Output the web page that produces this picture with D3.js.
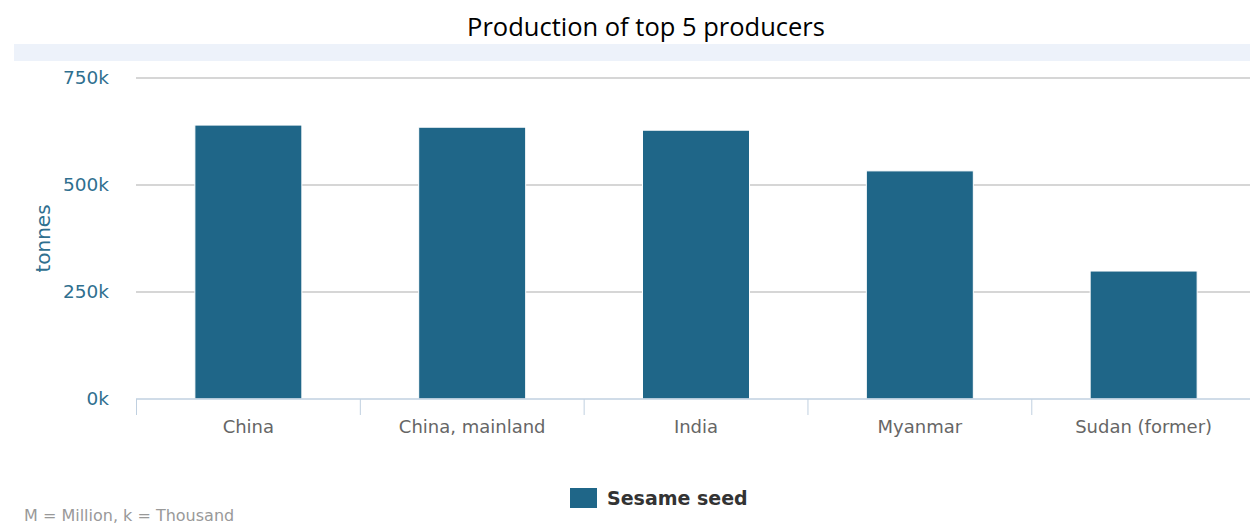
<!DOCTYPE html>
<html>
<head>
<meta charset="utf-8">
<script src="https://cdnjs.cloudflare.com/ajax/libs/d3/7.8.5/d3.min.js"></script>
<style>
  body { margin: 0; background: #fff; overflow: hidden; }
  svg { display: block; }
</style>
</head>
<body>
<svg id="chart"></svg>
<script>
const categories = ["China", "China, mainland", "India", "Myanmar", "Sudan (former)"];
const seriesName = "Sesame seed";
const values = [640000, 635000, 628000, 533000, 299000];
const yTicks = [0, 250000, 500000, 750000];

const W = 1250, H = 525;
const margin = { top: 78, right: -6, bottom: 126, left: 136 };
const width = W - margin.left - margin.right;
const height = H - margin.top - margin.bottom;
const barColor = "#1f6688";

const svg = d3.select("#chart").attr("width", W).attr("height", H);

// title + light band
svg.append("text")
    .attr("x", 646).attr("y", 36)
    .attr("text-anchor", "middle")
    .attr("font-family", "'Open Sans', sans-serif")
    .attr("font-size", 25.5)
    .attr("fill", "#000")
    .text("Production of top 5 producers");

svg.append("rect")
    .attr("x", 14).attr("y", 44)
    .attr("width", W - 14).attr("height", 17)
    .attr("fill", "#edf2fa");

const x = d3.scaleBand().domain(categories).range([0, width]).paddingInner(0.522).paddingOuter(0.263);
const y = d3.scaleLinear().domain([0, 750000]).range([height, 0]);

const g = svg.append("g").attr("transform", `translate(${margin.left},${margin.top})`);

// gridlines
g.append("g")
    .selectAll("line")
    .data(yTicks.filter(d => d > 0))
    .join("line")
    .attr("x1", 0).attr("x2", width)
    .attr("y1", d => y(d)).attr("y2", d => y(d))
    .attr("stroke", "#c8c8c8")
    .attr("stroke-width", 1.6);

// y labels
const yAxis = g.append("g")
    .call(d3.axisLeft(y).tickValues(yTicks).tickSize(0).tickPadding(27)
        .tickFormat(d => (d / 1000) + "k"));
yAxis.select(".domain").remove();
yAxis.selectAll("text")
    .attr("font-family", "'DejaVu Sans', sans-serif")
    .attr("font-size", 18.5)
    .attr("fill", "#2f6f8f");

svg.append("text")
    .attr("transform", `translate(50,${margin.top + y(375000)}) rotate(-90)`)
    .attr("text-anchor", "middle")
    .attr("font-family", "'DejaVu Sans', sans-serif")
    .attr("font-size", 20)
    .attr("fill", "#2f6f8f")
    .text("tonnes");

// bars
g.selectAll("rect.bar")
    .data(values)
    .join("rect")
    .attr("class", "bar")
    .attr("x", (d, i) => x(categories[i]))
    .attr("y", d => y(d))
    .attr("width", x.bandwidth())
    .attr("height", d => height - y(d))
    .attr("fill", barColor)
    .attr("stroke", "#fff")
    .attr("stroke-width", 1);

// x axis
const step = x.step();
const xAxis = g.append("g").attr("transform", `translate(0,${height})`);
xAxis.append("line")
    .attr("x1", 0).attr("x2", width)
    .attr("stroke", "#c0d0e0").attr("stroke-width", 1.5);
xAxis.selectAll("line.tick")
    .data(d3.range(categories.length))
    .join("line")
    .attr("class", "tick")
    .attr("x1", i => i * step + 0.5).attr("x2", i => i * step + 0.5)
    .attr("y1", 0).attr("y2", 16)
    .attr("stroke", "#c0d0e0").attr("stroke-width", 1);
xAxis.selectAll("text")
    .data(categories)
    .join("text")
    .attr("x", d => x(d) + x.bandwidth() / 2)
    .attr("y", 34)
    .attr("text-anchor", "middle")
    .attr("font-family", "'DejaVu Sans', sans-serif")
    .attr("font-size", 18)
    .attr("fill", "#666")
    .text(d => d);

// legend
const legend = svg.append("g").attr("transform", "translate(570,488)");
legend.append("rect")
    .attr("width", 27).attr("height", 20)
    .attr("fill", barColor);
legend.append("text")
    .attr("x", 37).attr("y", 17)
    .attr("font-family", "'DejaVu Sans', sans-serif")
    .attr("font-size", 19)
    .attr("font-weight", "bold")
    .attr("fill", "#333")
    .text(seriesName);

// footer
svg.append("text")
    .attr("x", 24).attr("y", 521)
    .attr("font-family", "'DejaVu Sans', sans-serif")
    .attr("font-size", 16)
    .attr("fill", "#999")
    .text("M = Million, k = Thousand");
</script>
</body>
</html>
